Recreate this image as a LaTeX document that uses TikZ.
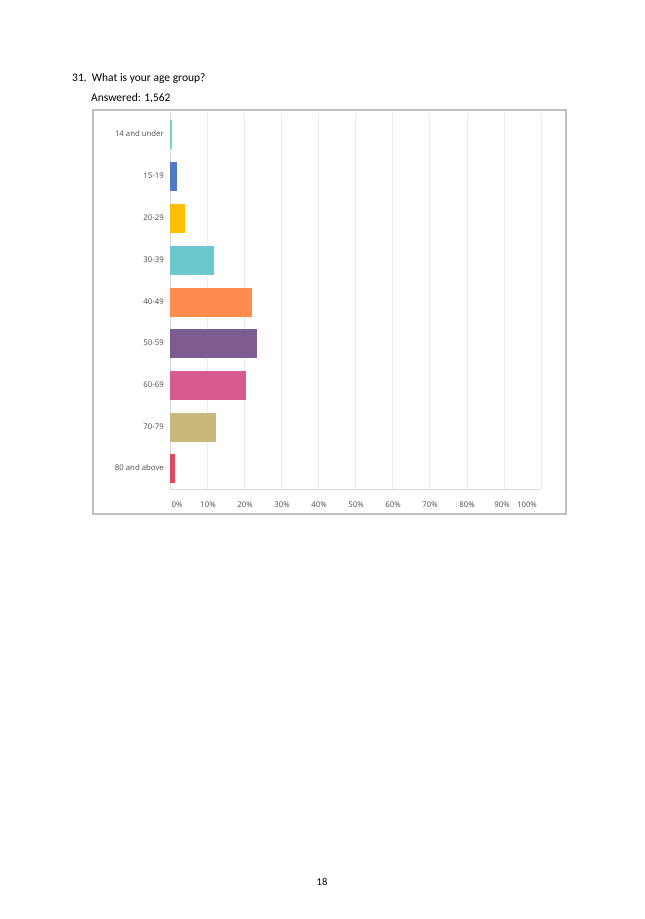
\documentclass[tikz,border=0pt]{standalone}
\usepackage{fontspec}
\setmainfont{Carlito}
\newfontfamily\chartfont{Open Sans}
\begin{document}
\begin{tikzpicture}[x=1pt,y=-1pt,
  lab/.style={font=\chartfont\fontsize{7.8}{9}\selectfont,text=black!70,inner sep=0pt}]
\useasboundingbox (0,0) rectangle (645,919);
\fill[white] (0,0) rectangle (645,919);
\node[anchor=west,inner sep=0pt,font=\fontsize{11.5}{13}\selectfont] (title) at (72,78) {31.\ \ What is your age group?};
\node[anchor=west,inner sep=0pt,font=\fontsize{11.5}{13}\selectfont] (ans) at (91,98) {Answered: 1,562};
\draw[black!25,line width=1.2pt] (93,110) rectangle (566,514);
\foreach \i in {1,...,10} \draw[black!7,line width=0.5pt] (170+37.1*\i,113) -- (170+37.1*\i,489);
\draw[black!15,line width=0.6pt] (170,113) -- (170,489);
\draw[black!15,line width=0.6pt] (170,489) -- (541,489);
\foreach \y/\e/\c/\t [count=\k] in {134/171.5/6FD9BC/14 and under,176/177/4E7AC7/15-19,218/185/FDBD00/20-29,260/214/6BC8CD/30-39,302/252/FF8B4F/40-49,343/257/7D5C91/50-59,385/246/D65B8F/60-69,427/216/C8B87A/70-79,468/175/E3475C/80 and above}{
  \definecolor{bc\k}{HTML}{\c}
  \fill[bc\k] (170,\y-14.5) rectangle (\e,\y+14.5);
  \node[lab,anchor=east] (l\k) at (164,\y) {\t};
}
\foreach \p/\x [count=\k from 0] in {0\%/177,10\%/208,20\%/245,30\%/282,40\%/319,50\%/356,60\%/393,70\%/430,80\%/467,90\%/502,100\%/527}
  \node[lab] (t\k) at (\x,505) {\p};
\node[inner sep=0pt,font=\fontsize{10.5}{12}\selectfont] (pg) at (322,882) {18};
\end{tikzpicture}
\end{document}
